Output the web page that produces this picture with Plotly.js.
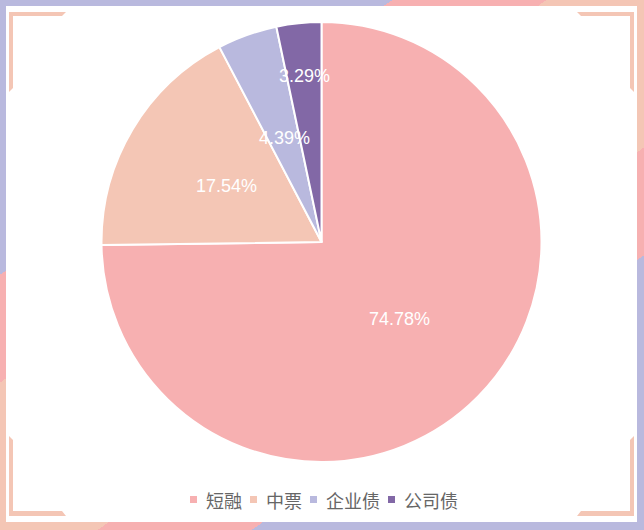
<!DOCTYPE html>
<html>
<head>
<meta charset="utf-8">
<script src="https://cdn.plot.ly/plotly-3.0.1.min.js"></script>
<style>
    html, body { margin: 0; padding: 0; background: #fff; }
    #frame {
        position: relative; width: 644px; height: 530px; overflow: hidden;
        background: linear-gradient(145deg, #b9b9de 0%, #b9b9de 28%, #f7b0b1 28%, #f7b0b1 39%,
            #f4c6b5 39%, #f4c6b5 61%, #f7b0b1 61%, #f7b0b1 72%, #b9b9de 72%, #b9b9de 100%);
    }
    #inner { position: absolute; left: 6px; top: 6px; right: 7px; bottom: 8px; background: #fff; }
    .corner { position: absolute; width: 57px; height: 80px; background: #f4c6b5; }
    #chart { position: absolute; left: 0; top: 0; width: 644px; height: 530px; }
</style>
</head>
<body>
<div id="frame">
    <div id="inner"></div>
    <div class="corner" style="left:9px; top:12px; clip-path: polygon(0 0, 57px 0, 53px 4px, 4px 4px, 4px 76px, 0 80px);"></div>
    <div class="corner" style="left:577px; top:12px; clip-path: polygon(0 0, 57px 0, 57px 80px, 53px 76px, 53px 4px, 4px 4px);"></div>
    <div class="corner" style="left:9px; top:436px; clip-path: polygon(0 0, 4px 4px, 4px 75px, 53px 75px, 57px 80px, 0 80px);"></div>
    <div class="corner" style="left:577px; top:436px; clip-path: polygon(53px 4px, 57px 0, 57px 80px, 0 80px, 4px 75px, 53px 75px);"></div>
    <div id="chart"></div>
</div>
<script>
// pie data
var categories = ['短融', '中票', '企业债', '公司债'];
var shares = [74.78, 17.54, 4.39, 3.29];
var colors = ['#f7b0b1', '#f4c6b5', '#b9b9de', '#8268a6'];

// where the percent labels sit, as a fraction of the radius
var labelRadius = [0.5, 0.5, 0.5, 0.76];

var W = 644, H = 530;
var pieDomain = { x: [101.5 / W, 541.5 / W], y: [68 / H, 508 / H] };
var R = 220;
var cx = (pieDomain.x[0] + pieDomain.x[1]) / 2;
var cy = (pieDomain.y[0] + pieDomain.y[1]) / 2;

var trace = {
    type: 'pie',
    labels: categories,
    values: shares,
    sort: false,
    direction: 'clockwise',
    rotation: 0,
    domain: pieDomain,
    marker: { colors: colors, line: { color: '#ffffff', width: 2 } },
    textinfo: 'none',
    hoverinfo: 'label+percent',
    showlegend: false
};

var annotations = [];
var shapes = [];

// percent labels, placed at the middle angle of each slice
var total = shares.reduce(function(a, b) { return a + b; }, 0);
var acc = 0;
for (var i = 0; i < shares.length; i++) {
    var mid = (acc + shares[i] / 2) / total * 2 * Math.PI;
    acc += shares[i];
    var r = R * labelRadius[i];
    annotations.push({
        xref: 'paper', yref: 'paper',
        x: cx + r * Math.sin(mid) / W,
        y: cy + r * Math.cos(mid) / H,
        xanchor: 'center', yanchor: 'middle',
        text: shares[i].toFixed(2) + '%',
        showarrow: false,
        font: { family: 'Liberation Sans, Arial, sans-serif', size: 18, color: '#ffffff' }
    });
}

// legend along the bottom
var legendY = 1 - 500 / H;
var x = 190;
for (var j = 0; j < categories.length; j++) {
    shapes.push({
        type: 'rect', xref: 'paper', yref: 'paper',
        x0: x / W, x1: (x + 7) / W,
        y0: 1 - 503 / H, y1: 1 - 496 / H,
        fillcolor: colors[j], line: { width: 0 }
    });
    x += 7 + 8;
    annotations.push({
        xref: 'paper', yref: 'paper',
        x: x / W, y: legendY,
        xanchor: 'left', yanchor: 'middle',
        text: categories[j],
        showarrow: false,
        borderpad: 0,
        font: { family: 'Noto Sans CJK SC, sans-serif', size: 18, color: '#666666' }
    });
    x += categories[j].length * 18 + 9;
}

var layout = {
    width: W,
    height: H,
    margin: { l: 0, r: 0, t: 0, b: 0 },
    paper_bgcolor: 'rgba(0,0,0,0)',
    plot_bgcolor: 'rgba(0,0,0,0)',
    showlegend: false,
    annotations: annotations,
    shapes: shapes
};

Plotly.newPlot('chart', [trace], layout, { displayModeBar: false, staticPlot: true });
</script>
</body>
</html>
